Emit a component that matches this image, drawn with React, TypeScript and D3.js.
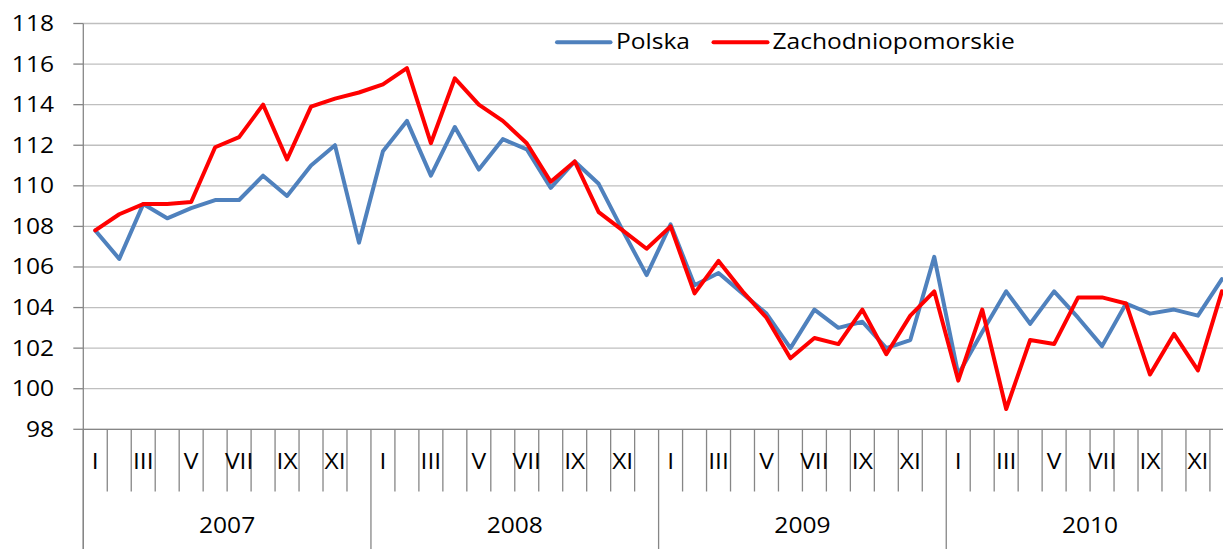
import React from "react";
import * as d3 from "d3";

const years = ["2007", "2008", "2009", "2010"];
const months = ["I", "II", "III", "IV", "V", "VI", "VII", "VIII", "IX", "X", "XI", "XII"];
const yTicks = [98, 100, 102, 104, 106, 108, 110, 112, 114, 116, 118];

const polska = [
  107.8, 106.4, 109.1, 108.4, 108.9, 109.3, 109.3, 110.5, 109.5, 111.0, 112.0, 107.2,
  111.7, 113.2, 110.5, 112.9, 110.8, 112.3, 111.8, 109.9, 111.2, 110.1, 107.8, 105.6,
  108.1, 105.1, 105.7, 104.7, 103.7, 102.0, 103.9, 103.0, 103.3, 102.0, 102.4, 106.5,
  100.7, 102.8, 104.8, 103.2, 104.8, 103.5, 102.1, 104.2, 103.7, 103.9, 103.6, 105.4,
];
const zachodniopomorskie = [
  107.8, 108.6, 109.1, 109.1, 109.2, 111.9, 112.4, 114.0, 111.3, 113.9, 114.3, 114.6,
  115.0, 115.8, 112.1, 115.3, 114.0, 113.2, 112.1, 110.2, 111.2, 108.7, 107.8, 106.9,
  108.0, 104.7, 106.3, 104.8, 103.5, 101.5, 102.5, 102.2, 103.9, 101.7, 103.6, 104.8,
  100.4, 103.9, 99.0, 102.4, 102.2, 104.5, 104.5, 104.2, 100.7, 102.7, 100.9, 104.8,
];

const series = [
  { name: "Polska", values: polska, color: "#4F81BD" },
  { name: "Zachodniopomorskie", values: zachodniopomorskie, color: "#FF0000" },
];

const W = 1223;
const H = 549;
const LEFT = 83.3;
const RIGHT = 1233.9;
const TOP = 23.5;
const BOTTOM = 429.3;
const SX = 1.17;
const FONT = "'Open Sans', sans-serif";

function T({ x, y, anchor = "start", children, size = 21 }: any) {
  return (
    <text
      transform={`translate(${x},${y}) scale(${SX},1)`}
      textAnchor={anchor}
      fontFamily={FONT}
      fontSize={size}
      fill="#000"
    >
      {children}
    </text>
  );
}

export default function App() {
  const cats = years.flatMap((yr) => months.map((m) => `${yr}-${m}`));
  const x = d3.scaleBand<string>().domain(cats).range([LEFT, RIGHT]).padding(0);
  const y = d3.scaleLinear().domain([98, 118]).range([BOTTOM, TOP]);
  const bw = x.bandwidth();

  const line = d3
    .line<number>()
    .x((_, i) => (x(cats[i]) as number) + bw / 2)
    .y((d) => y(d));

  const yearX = (i: number) => x(`${years[i]}-I`) as number;

  return (
    <svg
      width={W}
      height={H}
      style={{ position: "absolute", left: 0, top: 0, background: "#fff" }}
    >
      <rect x={0} y={0} width={W} height={H} fill="#fff" />
      {/* gridlines */}
      {yTicks.map((t) => (
        <g key={t}>
          <line x1={LEFT} x2={W + 20} y1={y(t)} y2={y(t)} stroke="#BFBFBF" strokeWidth={1.3} />
          <line x1={LEFT - 10} x2={LEFT} y1={y(t)} y2={y(t)} stroke="#868686" strokeWidth={1.3} />
          <T x={54} y={y(t) + 7.5} anchor="end">
            {t}
          </T>
        </g>
      ))}
      {/* y axis */}
      <line x1={LEFT} x2={LEFT} y1={TOP} y2={H} stroke="#868686" strokeWidth={1.3} />
      {/* x axis */}
      <line x1={LEFT} x2={W + 20} y1={BOTTOM} y2={BOTTOM} stroke="#868686" strokeWidth={1.3} />
      {/* month ticks */}
      {cats.map((c, i) =>
        i % 12 === 0 ? null : (
          <line
            key={c}
            x1={x(c) as number}
            x2={x(c) as number}
            y1={BOTTOM}
            y2={491.5}
            stroke="#868686"
            strokeWidth={1.3}
          />
        )
      )}
      {/* year separators */}
      {years.map((yr, i) => (
        <line
          key={yr}
          x1={yearX(i)}
          x2={yearX(i)}
          y1={BOTTOM}
          y2={H}
          stroke="#868686"
          strokeWidth={1.3}
        />
      ))}
      <line x1={RIGHT} x2={RIGHT} y1={BOTTOM} y2={H} stroke="#868686" strokeWidth={1.3} />
      {/* month labels */}
      {cats.map((c, i) =>
        i % 2 === 0 ? (
          <T key={c} x={(x(c) as number) + bw / 2} y={469.3} anchor="middle">
            {months[i % 12]}
          </T>
        ) : null
      )}
      {/* year labels */}
      {years.map((yr, i) => (
        <T key={yr} x={yearX(i) + bw * 6} y={533.3} anchor="middle">
          {yr}
        </T>
      ))}
      {/* series */}
      {series.map((s) => (
        <path
          key={s.name}
          d={line(s.values) as string}
          fill="none"
          stroke={s.color}
          strokeWidth={4}
          strokeLinejoin="round"
          strokeLinecap="round"
        />
      ))}
      {/* legend */}
      <line x1={557} x2={610.5} y1={42.3} y2={42.3} stroke={series[0].color} strokeWidth={4} strokeLinecap="round" />
      <T x={616} y={48.5}>
        {series[0].name}
      </T>
      <line x1={713.5} x2={767.5} y1={42.3} y2={42.3} stroke={series[1].color} strokeWidth={4} strokeLinecap="round" />
      <T x={772.5} y={48.5}>
        {series[1].name}
      </T>
    </svg>
  );
}
